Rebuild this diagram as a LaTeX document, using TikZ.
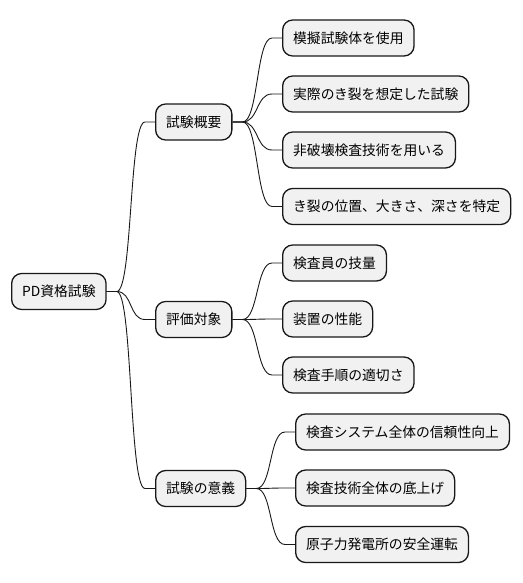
\documentclass[tikz,border=0pt]{standalone}
\usepackage{fontspec}
\setmainfont{Noto Sans CJK JP}
\usetikzlibrary{calc}
\definecolor{mapfill}{RGB}{241,241,241}
\definecolor{mapline}{RGB}{24,24,24}
\tikzset{
  topic/.style={draw=mapline, fill=mapfill, rounded corners=10pt,
                line width=1.3pt, minimum height=36pt, inner xsep=10.5pt,
                inner ysep=0pt, anchor=west, font=\fontsize{13.8}{16}\selectfont},
  link/.style={draw=mapline, line width=0.9pt},
}
% connector: short stub, S-curve, short stub
\newcommand{\branch}[2]{%
  \draw[link] (#1.east) -- ++(10pt,0) .. controls +(16pt,0) and +(-16pt,0)
    .. ($(#2.west)+(-10pt,0)$) -- (#2.west);}

\begin{document}
\begin{tikzpicture}[x=1pt, y=-1pt]
  \useasboundingbox (0,0) rectangle (522,583);

  \node[topic] (root)    at (11,291.5)  {PD資格試験};

  \node[topic] (outline) at (155,122)   {試験概要};
  \node[topic] (target)  at (155,319.5) {評価対象};
  \node[topic] (meaning) at (155,488.5) {試験の意義};

  \node[topic] (o1) at (282,38)    {模擬試験体を使用};
  \node[topic] (o2) at (282,94)    {実際のき裂を想定した試験};
  \node[topic] (o3) at (282,150)   {非破壊検査技術を用いる};
  \node[topic] (o4) at (282,206.5) {き裂の位置、大きさ、深さを特定};

  \node[topic] (t1) at (282,263)   {検査員の技量};
  \node[topic] (t2) at (282,319)   {装置の性能};
  \node[topic] (t3) at (282,375)   {検査手順の適切さ};

  \node[topic] (m1) at (295,432)   {検査システム全体の信頼性向上};
  \node[topic] (m2) at (295,488)   {検査技術全体の底上げ};
  \node[topic] (m3) at (295,544.5) {原子力発電所の安全運転};

  \foreach \c in {outline, target, meaning} {\branch{root}{\c}}
  \foreach \c in {o1, o2, o3, o4} {\branch{outline}{\c}}
  \foreach \c in {t1, t2, t3} {\branch{target}{\c}}
  \foreach \c in {m1, m2, m3} {\branch{meaning}{\c}}
\end{tikzpicture}
\end{document}
